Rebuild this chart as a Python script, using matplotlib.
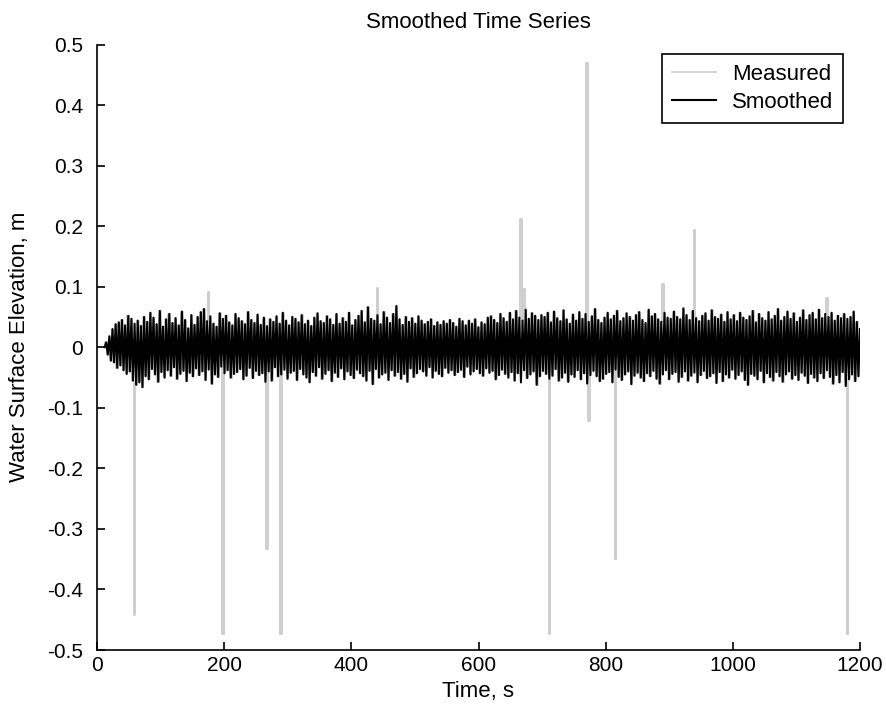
import numpy as np
import matplotlib
matplotlib.use("Agg")
import matplotlib.pyplot as plt

plt.rcParams['font.family'] = ['Liberation Sans', 'DejaVu Sans']
plt.rcParams['axes.unicode_minus'] = False

# Smoothed water surface elevation, mm (~2.5 s spacing)
smoothed_mm = [
    0, 8, -12, 18, -22, 30, -25, 38, -34, 41, -30, 45, -38, 36, -44, 52, -40, 47, -55, 39,
    -62, 44, -58, 35, -66, 50, -48, 42, -53, 57, -36, 49, -45, 38, -57, 60, -41, 34, -50, 46,
    -38, 55, -47, 40, -33, 48, -52, 36, -44, 59, -39, 45, -56, 31, -42, 53, -48, 37, -35, 50,
    -46, 58, -40, 63, -54, 43, -37, 51, -60, 39, -45, 34, -49, 56, -32, 47, -43, 52, -38, 41,
    -50, 36, -44, 55, -41, 48, -36, 43, -53, 38, -47, 58, -34, 45, -51, 40, -39, 54, -46, 37,
    -43, 49, -57, 35, -40, 46, -55, 42, -33, 51, -48, 39, -45, 57, -37, 44, -52, 36, -42, 50,
    -39, 47, -54, 41, -36, 53, -45, 38, -50, 44, -58, 35, -41, 49, -47, 56, -33, 43, -52, 40,
    -44, 51, -38, 46, -56, 37, -42, 55, -49, 39, -35, 48, -53, 42, -40, 57, -46, 36, -51, 45,
    -37, 52, -43, 60, -48, 41, -55, 66, -39, 47, -61, 44, -36, 53, -50, 38, -45, 58, -42, 49,
    -54, 40, -38, 55, -47, 68, -41, 46, -52, 37, -44, 50, -57, 42, -35, 48, -49, 39, -43, 51,
    -36, 44, -40, 38, -47, 42, -33, 46, -50, 35, -39, 41, -44, 37, -48, 43, -34, 39, -42, 45,
    -38, 40, -46, 34, -41, 47, -37, 43, -49, 36, -32, 44, -45, 39, -40, 46, -36, 33, -43, 41,
    -47, 38, -35, 49, -42, 51, -39, 45, -53, 40, -46, 55, -37, 48, -44, 42, -50, 57, -41, 46,
    -55, 60, -43, 49, -58, 44, -38, 62, -51, 47, -45, 56, -40, 52, -62, 45, -48, 53, -39, 50,
    -44, 57, -52, 41, -47, 59, -36, 48, -55, 43, -50, 61, -42, 46, -57, 39, -45, 54, -49, 44,
    -38, 58, -53, 47, -43, 55, -60, 42, -46, 51, -39, 63, -48, 45, -56, 40, -52, 49, -44, 57,
    -41, 46, -58, 52, -37, 60, -49, 43, -54, 48, -45, 56, -40, 50, -61, 44, -47, 53, -42, 58,
    -50, 45, -56, 40, -43, 62, -48, 51, -39, 55, -52, 46, -60, 42, -45, 57, -38, 49, -53, 47,
    -44, 59, -41, 50, -57, 46, -49, 64, -40, 53, -55, 45, -47, 60, -42, 48, -58, 43, -46, 52,
    -39, 56, -51, 44, -48, 61, -43, 50, -59, 47, -41, 54, -56, 42, -45, 58, -50, 46, -37, 53,
    -52, 43, -46, 57, -40, 49, -54, 45, -62, 51, -44, 60, -47, 41, -53, 55, -39, 48, -58, 44,
    -43, 58, -49, 46, -55, 52, -41, 63, -48, 44, -57, 50, -45, 59, -40, 47, -52, 56, -46, 42,
    -54, 49, -42, 61, -47, 45, -59, 53, -44, 57, -50, 46, -56, 62, -43, 48, -51, 55, -38, 50,
    -49, 57, -60, 44, -46, 52, -58, 48, -41, 55, -64, 47, -53, 50, -45, 59, -56, 42, -48, 30,
]
t_start, t_end = 12, 1200

# Spikes present only in the measured record (time s, elevation m)
spike_times = [60, 176, 197, 267, 291, 440, 667, 672, 711, 770.5, 773, 816, 890, 940, 1148, 1180]
spike_values = [-0.443, 0.091, -0.473, -0.334, -0.473, 0.098, 0.212, 0.096, -0.473,
                0.470, -0.121, -0.350, 0.104, 0.193, 0.081, -0.473]

xticks = [0, 200, 400, 600, 800, 1000, 1200]
yticks = [-0.5, -0.4, -0.3, -0.2, -0.1, 0, 0.1, 0.2, 0.3, 0.4, 0.5]
ytick_labels = ['-0.5', '-0.4', '-0.3', '-0.2', '-0.1', '0', '0.1', '0.2', '0.3', '0.4', '0.5']

smoothed = np.array(smoothed_mm, dtype=float) / 1000.0
time = np.linspace(t_start, t_end, len(smoothed))
measured = smoothed.copy()
for ts, v in zip(spike_times, spike_values):
    measured[np.argmin(np.abs(time - ts))] = v

fig = plt.figure(figsize=(8.86, 7.11), dpi=100)
ax = fig.add_axes([97/886, 61/711, 763/886, 605.5/711])
ax.plot(time, measured, color='#cccccc', lw=1.3, drawstyle='steps-mid', label='Measured')
ax.plot(time, smoothed, color='black', lw=1.5, label='Smoothed')

ax.set_xlim(0, 1200)
ax.set_ylim(-0.5, 0.5)
ax.set_xticks(xticks)
ax.set_yticks(yticks)
ax.set_yticklabels(ytick_labels)
ax.spines['top'].set_visible(False)
ax.spines['right'].set_visible(False)
ax.tick_params(direction='in', length=6, width=1.2, labelsize=15)
ax.tick_params(axis='x', pad=4)
ax.tick_params(axis='y', pad=10)
for s in ('left', 'bottom'):
    ax.spines[s].set_linewidth(1.2)

ax.set_title('Smoothed Time Series', fontsize=16, pad=12)
ax.set_xlabel('Time, s', fontsize=16)
ax.set_ylabel('Water Surface Elevation, m', fontsize=16)
ax.xaxis.set_label_coords(0.5, -0.052)
ax.yaxis.set_label_coords(-0.088, 0.5)

leg = ax.legend(loc='upper right', bbox_to_anchor=(0.978, 0.984), fontsize=16,
                frameon=True, fancybox=False, edgecolor='black', framealpha=1,
                handlelength=2.0, borderpad=0.45, labelspacing=0.3, handletextpad=0.7,
                borderaxespad=0)
leg.get_frame().set_linewidth(1.2)
for line in leg.get_lines():
    line.set_linewidth(1.5 if line.get_color() == 'black' else 1.2)

fig.savefig('out.png', dpi=100)
